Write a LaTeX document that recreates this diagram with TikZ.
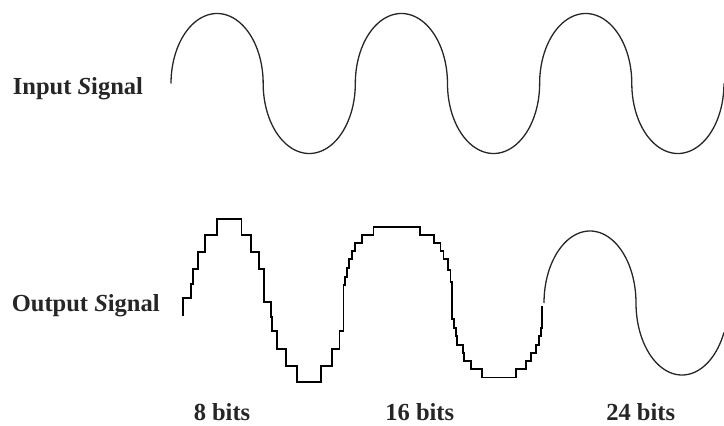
\documentclass[tikz,border=0pt]{standalone}
\usepackage{fontspec}
\setmainfont{Liberation Serif}
\begin{document}
\begin{tikzpicture}[x=1pt,y=-1pt,
  smooth wave/.style={line width=1.3pt, black!85, line join=round},
  stair wave/.style={line width=1.9pt, black, line join=miter},
  label text/.style={inner sep=0pt, font=\fontsize{24.5}{29}\selectfont\bfseries, text=black!85}]
\useasboundingbox (0,0) rectangle (724,426);

% labels
\node[label text, anchor=base west] (inlab) at (12.7,94.3) {Input \textit{S}ignal};
\node[label text, anchor=base west] (outlab) at (11.7,311.7) {Output \textit{S}ignal};
\node[label text, anchor=base] (b8) at (222,420.7) {8 bits};
\node[label text, anchor=base] (b16) at (419.8,420.7) {16 bits};
\node[label text, anchor=base] (b24) at (640.7,420.7) {24 bits};

% input signal: three periods of elliptic half-waves
\draw[smooth wave] plot[domain=0:1080, samples=361, variable=\t]
  ({171 + 46.08*(2*floor(\t/180) + 1 - cos(mod(\t,180)))}, {83.5 - 70*sin(\t)});

% output signal: 8-bit and 16-bit staircases
\draw[stair wave] (183,316)
  |- (191,297.7) |- (192.7,284) |- (198,269.3) |- (205.3,251.7) |- (217.3,235.3)
  |- (241.5,219) |- (250.7,235.3) |- (259.3,251.7) |- (263.7,269.3) |- (270.7,302.3)
  |- (272.3,317.3) |- (277.3,330.7) |- (285.7,349) |- (297.3,365.7) |- (321,381.7)
  |- (332,365.7) |- (339.5,349) |- (343.5,331) |- (345,285) |- (346.7,276.7)
  |- (349,267.7) |- (351.7,259) |- (355,251) |- (361.7,243.3) |- (373.5,235)
  |- (420,227) |- (434,235) |- (440.5,243) |- (443.5,251.3) |- (448.2,258.7)
  |- (450.5,270) |- (452,282.3) |- (454.3,319) |- (455.7,328.3) |- (457.3,335.7)
  |- (462.7,345) |- (464.3,353.3) |- (470.7,361) |- (482.3,369) |- (516,377.5)
  |- (526,369) |- (530.7,361) |- (536,353.3) |- (539.3,345) |- (540.7,335.7)
  |- (542.3,328.3) -- (542.3,306);

% output signal: 24-bit smooth part
\draw[smooth wave] plot[domain=0:335.9, samples=113, variable=\t]
  ({544 + 46*(2*floor(\t/180) + 1 - cos(mod(\t,180)))}, {303 - 72*sin(\t)});
\end{tikzpicture}
\end{document}
